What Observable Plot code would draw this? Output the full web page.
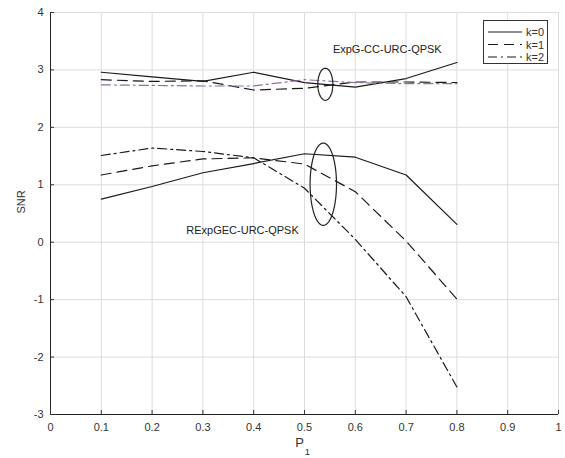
<!DOCTYPE html>
<html>
<head>
<meta charset="utf-8">
<script src="https://cdn.jsdelivr.net/npm/d3@7"></script>
<script src="https://cdn.jsdelivr.net/npm/@observablehq/plot@0.6"></script>
<style>
  html, body { margin: 0; padding: 0; background: #fff; }
  #wrap { position: relative; width: 565px; height: 458px; font-family: "Liberation Sans", Arial, sans-serif; }
  #legend { position: absolute; left: 483px; top: 20px; width: 65px; height: 44px; border: 1px solid #333; background: #fff; box-sizing: border-box; }
</style>
</head>
<body>
<div id="wrap"></div>
<script>
const P1 = [0.1, 0.2, 0.3, 0.4, 0.5, 0.6, 0.7, 0.8];
const expgK0 = [2.96, 2.88, 2.80, 2.96, 2.78, 2.70, 2.85, 3.13];
const expgK1 = [2.83, 2.80, 2.81, 2.65, 2.68, 2.79, 2.79, 2.78];
const expgK2 = [2.74, 2.73, 2.72, 2.72, 2.83, 2.78, 2.76, 2.76];
const rexpK0 = [0.75, 0.97, 1.21, 1.37, 1.54, 1.48, 1.17, 0.31];
const rexpK1 = [1.17, 1.33, 1.45, 1.47, 1.36, 0.88, 0.02, -0.99];
const rexpK2 = [1.51, 1.64, 1.58, 1.47, 0.94, 0.05, -0.95, -2.52];

const seriesNames = ["k=0", "k=1", "k=2"];
const dashes = [null, "10,6", "9,4,2,4"];
const xTicks = [0, 0.1, 0.2, 0.3, 0.4, 0.5, 0.6, 0.7, 0.8, 0.9, 1];
const yTicks = [-3, -2, -1, 0, 1, 2, 3, 4];

const annotations = [
  {x: 0.663, y: 3.35, text: "ExpG-CC-URC-QPSK"},
  {x: 0.378, y: 0.21, text: "RExpGEC-URC-QPSK"}
];
const ellipses = [
  {cx: 0.541, cy: 2.75, rx: 0.0148, ry: 0.279},
  {cx: 0.537, cy: 1.01, rx: 0.026, ry: 0.717}
];

const lineColor = "#1a1a1a";
const purple = "#8f6f9f";

const series = [
  {group: "expg", k: 0, vals: expgK0, color: lineColor},
  {group: "expg", k: 1, vals: expgK1, color: lineColor},
  {group: "expg", k: 2, vals: expgK2, color: purple},
  {group: "rexp", k: 0, vals: rexpK0, color: lineColor},
  {group: "rexp", k: 1, vals: rexpK1, color: lineColor},
  {group: "rexp", k: 2, vals: rexpK2, color: lineColor}
];

const ellipsePts = ellipses.flatMap((e, j) =>
  d3.range(0, 73).map(i => {
    const t = (i / 72) * 2 * Math.PI;
    return {id: j, x: e.cx + e.rx * Math.cos(t), y: e.cy + e.ry * Math.sin(t)};
  })
);

const lineMarks = series.map(s =>
  Plot.line(P1.map((p, i) => ({x: p, y: s.vals[i]})), {
    x: "x", y: "y", stroke: s.color, strokeWidth: 1.2,
    strokeDasharray: dashes[s.k]
  })
);

const chart = Plot.plot({
  width: 565,
  height: 458,
  marginLeft: 50,
  marginRight: 7,
  marginTop: 12,
  marginBottom: 44,
  style: {fontFamily: "Liberation Sans, Arial, sans-serif", fontSize: "11px", background: "transparent"},
  x: {domain: [0, 1]},
  y: {domain: [-3, 4]},
  marks: [
    Plot.gridX(xTicks, {stroke: "#dcdcdc", strokeOpacity: 1}),
    Plot.gridY(yTicks, {stroke: "#dcdcdc", strokeOpacity: 1}),
    ...lineMarks,
    Plot.line(ellipsePts, {x: "x", y: "y", z: "id", stroke: "#222", strokeWidth: 1.2, curve: "linear"}),
    Plot.text(annotations, {x: "x", y: "y", text: "text", fontSize: 11, fill: "#222"}),
    Plot.ruleX([0], {stroke: "#222", strokeWidth: 1}),
    Plot.ruleY([-3], {stroke: "#222", strokeWidth: 1}),
    Plot.axisX({ticks: xTicks, tickSize: -4, tickPadding: 13, tickFormat: d => String(d), fontSize: 11, color: "#333", label: null}),
    Plot.axisY({ticks: yTicks, tickSize: -4, tickPadding: 11, tickFormat: d => String(d), fontSize: 11, color: "#333", label: null}),
    Plot.text(["P"], {frameAnchor: "bottom", lineAnchor: "bottom", dx: -5, dy: 32, fontSize: 13, fill: "#333"}),
    Plot.text(["1"], {frameAnchor: "bottom", lineAnchor: "bottom", dx: 3, dy: 40, fontSize: 9.5, fill: "#333"}),
    Plot.text(["SNR"], {frameAnchor: "left", dx: -29, rotate: -90, fontSize: 11, fill: "#333"})
  ]
});

const wrap = document.getElementById("wrap");
wrap.appendChild(chart);

// legend
const legend = document.createElement("div");
legend.id = "legend";
const ns = "http://www.w3.org/2000/svg";
const lsvg = document.createElementNS(ns, "svg");
lsvg.setAttribute("width", 63);
lsvg.setAttribute("height", 42);
seriesNames.forEach((name, i) => {
  const yy = 11 + i * 12.5;
  const ln = document.createElementNS(ns, "line");
  ln.setAttribute("x1", 4); ln.setAttribute("x2", 38);
  ln.setAttribute("y1", yy); ln.setAttribute("y2", yy);
  ln.setAttribute("stroke", lineColor);
  ln.setAttribute("stroke-width", 1.2);
  if (dashes[i]) ln.setAttribute("stroke-dasharray", dashes[i]);
  lsvg.appendChild(ln);
  const tx = document.createElementNS(ns, "text");
  tx.setAttribute("x", 42); tx.setAttribute("y", yy + 4);
  tx.setAttribute("font-size", 11);
  tx.setAttribute("font-family", "Liberation Sans, Arial, sans-serif");
  tx.setAttribute("fill", "#333");
  tx.textContent = name;
  lsvg.appendChild(tx);
});
legend.appendChild(lsvg);
wrap.appendChild(legend);
</script>
</body>
</html>
